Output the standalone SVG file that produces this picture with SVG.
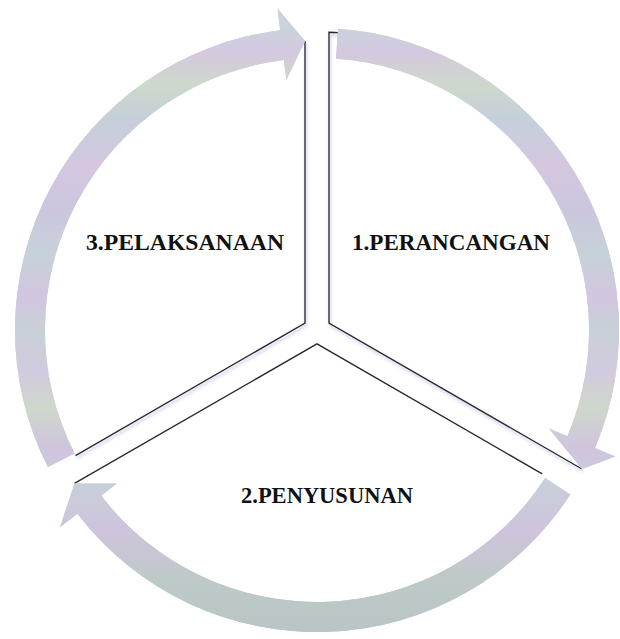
<svg xmlns="http://www.w3.org/2000/svg" width="620" height="639" viewBox="0 0 620 639">
  <defs>
    <linearGradient id="pastel" gradientUnits="userSpaceOnUse" x1="0" y1="0" x2="0" y2="639">
      <stop offset="0" stop-color="#d6c9e2"/>
      <stop offset="0.04" stop-color="#c9d4db"/>
      <stop offset="0.08" stop-color="#d4c8e0"/>
      <stop offset="0.13" stop-color="#cdd8cb"/>
      <stop offset="0.19" stop-color="#c6cfdb"/>
      <stop offset="0.26" stop-color="#d5c7e0"/>
      <stop offset="0.33" stop-color="#cbc6de"/>
      <stop offset="0.40" stop-color="#c7d2d8"/>
      <stop offset="0.46" stop-color="#d2c5e0"/>
      <stop offset="0.52" stop-color="#c8d1d6"/>
      <stop offset="0.58" stop-color="#d3cadf"/>
      <stop offset="0.64" stop-color="#cdd7cb"/>
      <stop offset="0.70" stop-color="#d0c4dd"/>
      <stop offset="0.76" stop-color="#c7cfda"/>
      <stop offset="0.83" stop-color="#cfc3dd"/>
      <stop offset="0.90" stop-color="#bfc9c9"/>
      <stop offset="1" stop-color="#b8c4c5"/>
    </linearGradient>
    <pattern id="hatch" patternUnits="userSpaceOnUse" width="3" height="3">
      <rect x="0" y="0" width="1" height="3" fill="#7a8088" fill-opacity="0.13"/>
      <rect x="0" y="0" width="3" height="1" fill="#ffffff" fill-opacity="0.12"/>
    </pattern>
    <filter id="shade" x="-10%" y="-10%" width="120%" height="130%">
      <feDropShadow dx="1" dy="2.5" stdDeviation="1.6" flood-color="#9c86c4" flood-opacity="0.6"/>
    </filter>
  </defs>
  <style>
    .edge { fill: none; stroke: #2b2b2b; stroke-width: 1.4; stroke-linejoin: miter; }
    .arrow { fill: url(#pastel); stroke: none; }
    .texture { fill: url(#hatch); stroke: none; }
    .label { font-family: "Liberation Serif", "Times New Roman", serif; font-weight: bold; font-size: 22.5px; fill: #111; }
  </style>
  <rect width="620" height="639" fill="#ffffff"/>

  <g id="node-1">
    <path class="edge" filter="url(#shade)" d="M340,32.9 A298,298 0 0 0 329,32.2 L329,323.1 L582,469"/>
    <text class="label" x="352" y="250" textLength="198" lengthAdjust="spacingAndGlyphs">1.PERANCANGAN</text>
  </g>

  <g id="node-2">
    <path class="edge" d="M74.5,483.4 L317,343.9 L542.2,473.9"/>
    <text class="label" x="241" y="503">2.PENYUSUNAN</text>
  </g>

  <g id="node-3">
    <path class="edge" filter="url(#shade)" d="M305,41 L305,323.1 L75.5,455.6"/>
    <text class="label" x="86" y="250" textLength="198" lengthAdjust="spacingAndGlyphs">3.PELAKSANAAN</text>
  </g>

  <g id="connectors">
    <path id="arrow-3-to-1" class="arrow" d="M47.9,467.1 A302,302 0 0 1 280.2,30.3 L277.5,8.4 L305,41 L286.3,79.9 L283.9,60 A272,272 0 0 0 74.6,453.5 Z"/>
    <path id="arrow-1-to-2" class="arrow" d="M338.1,28.7 A302,302 0 0 1 595,448 L615.2,456.6 L582,469 L549,428.5 L567.4,436.3 A272,272 0 0 0 336,58.7 Z"/>
    <path id="arrow-2-to-3" class="arrow" d="M570.3,494.5 A302,302 0 0 1 77.4,513.8 L60,527.2 L74.5,483.4 L117.1,483.4 L101.2,495.6 A272,272 0 0 0 545.1,478.1 Z"/>
    <use href="#arrow-3-to-1" class="texture"/>
    <use href="#arrow-1-to-2" class="texture"/>
    <use href="#arrow-2-to-3" class="texture"/>
  </g>
</svg>
